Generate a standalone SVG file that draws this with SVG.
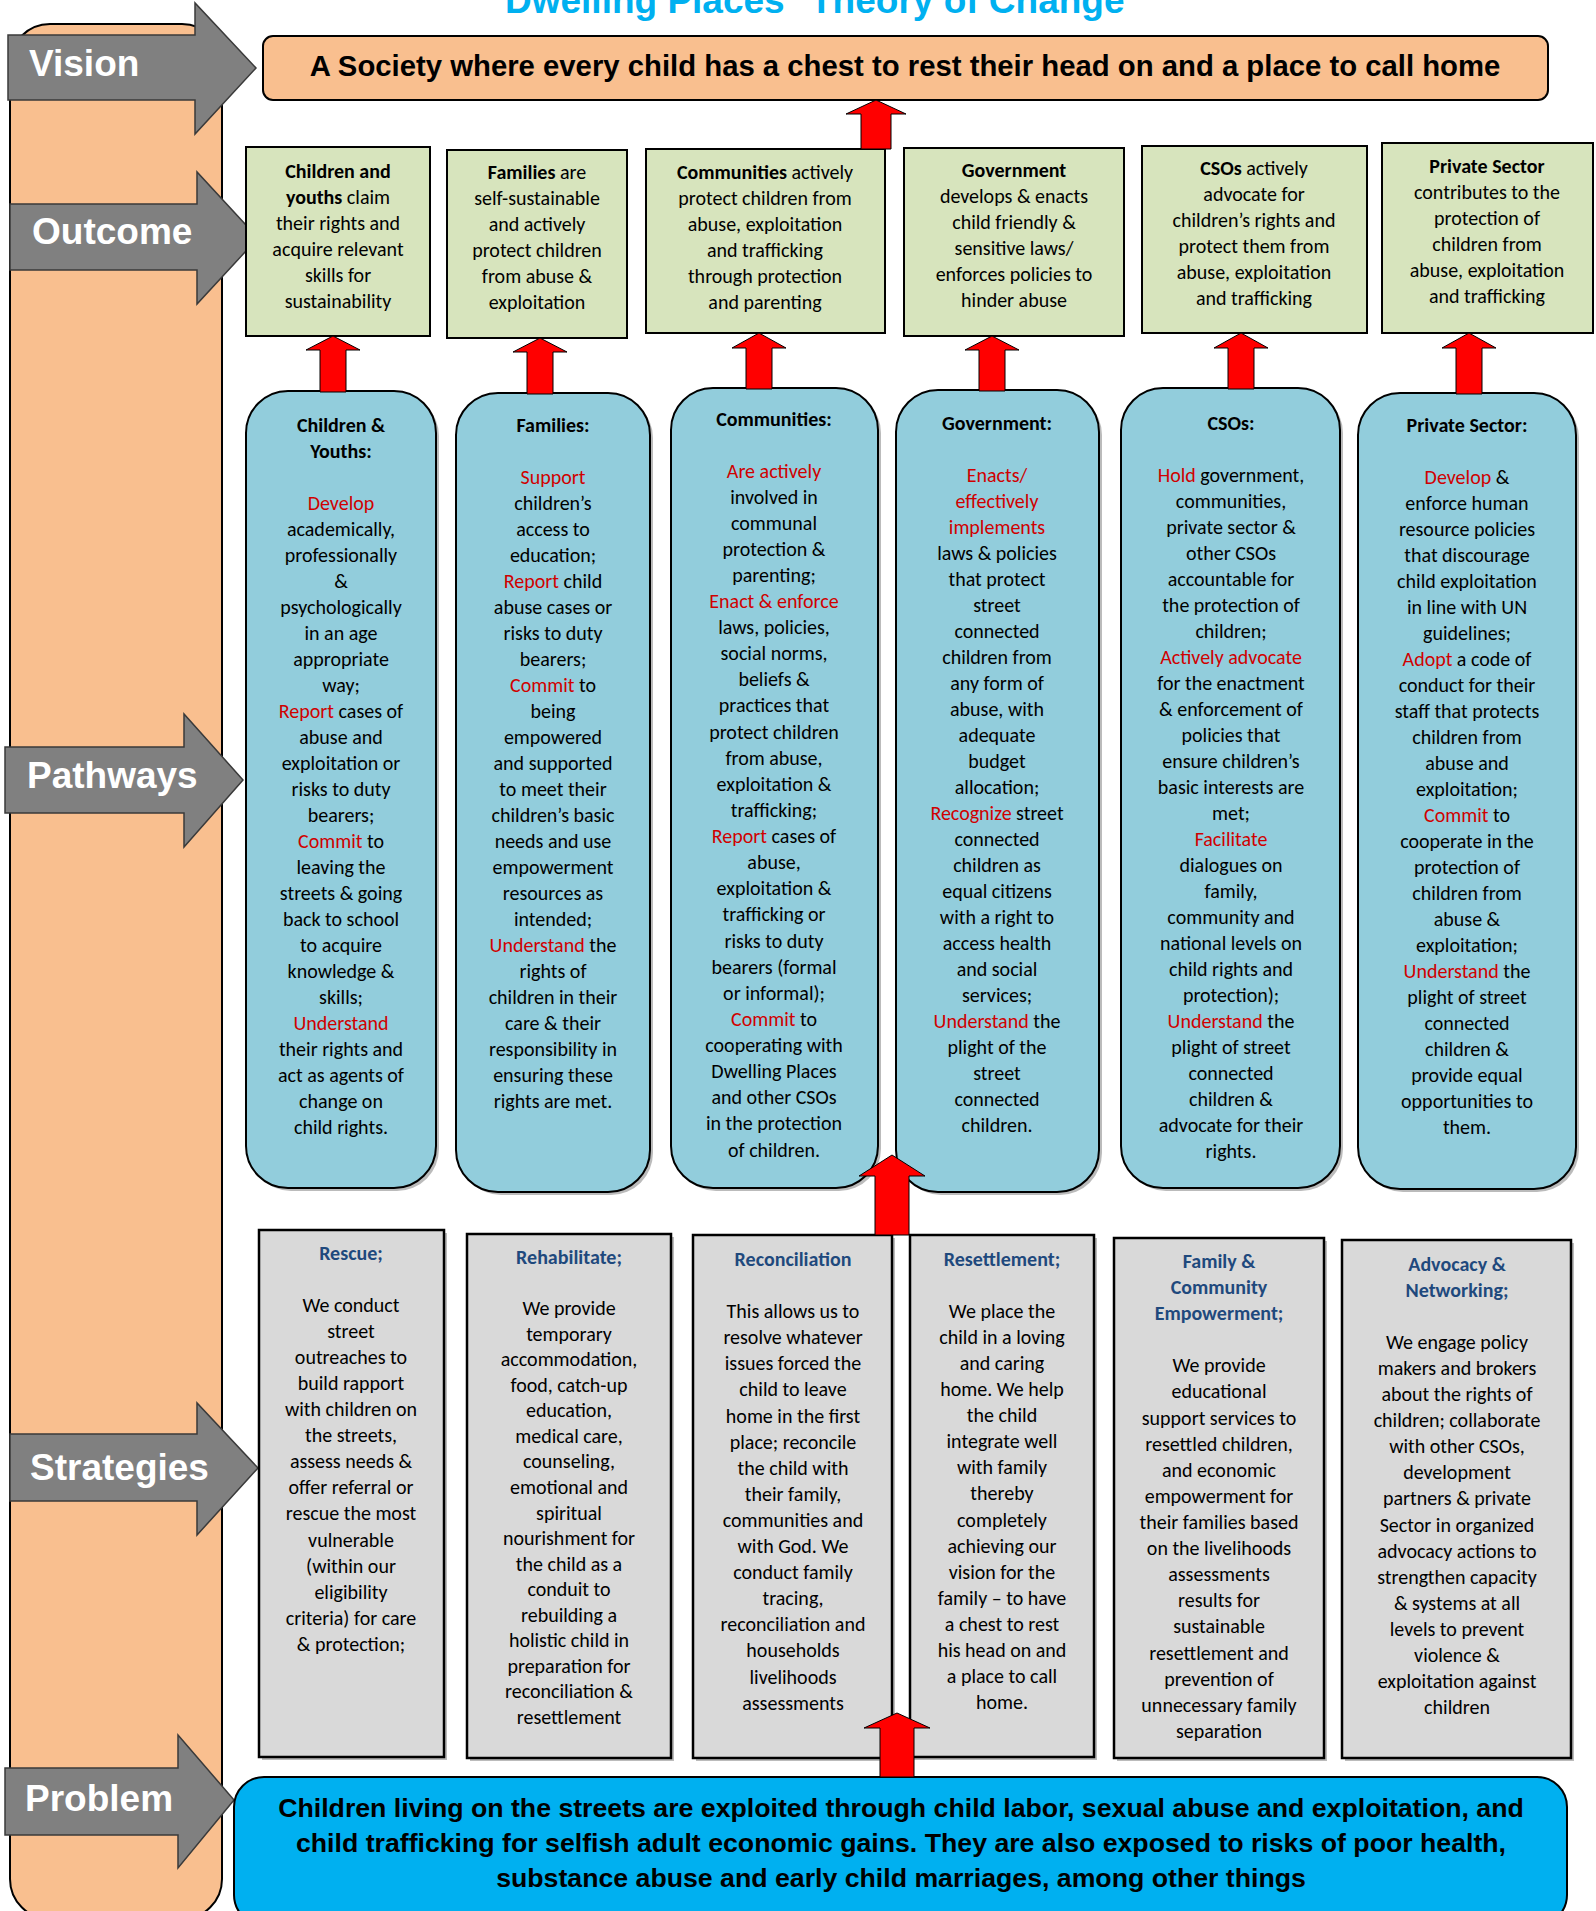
<svg xmlns="http://www.w3.org/2000/svg" width="1596" height="1911" viewBox="0 0 1596 1911">
<style>
.ar{font-family:"Liberation Sans",Arial,sans-serif;font-weight:bold}
.lab{font-family:"Liberation Sans",Arial,sans-serif;font-weight:bold;font-size:37px;fill:#fff}
.cal{font-family:Carlito,Lato,sans-serif;font-size:20px;fill:#000;text-anchor:middle}
.b{font-weight:bold}
.r{fill:#D00000}
.st{fill:#1F497D;font-weight:bold}
.garrow{fill:#808080;stroke:#3a3a3a;stroke-width:1.5}
.red{fill:#FF0000;stroke:#000;stroke-width:1}
.green{fill:#D7E4BD;stroke:#000;stroke-width:2}
.blue{fill:#92CDDC;stroke:#000;stroke-width:2}
.gray{fill:#D9D9D9;stroke:#000;stroke-width:2.5}
.sh{fill:#555;opacity:0.4}
</style>
<rect width="1596" height="1911" fill="#fff"/>
<g id="title">
<text class="ar" font-size="37" fill="#00B0F0" y="13"><tspan x="505">Dwelling Places</tspan><tspan x="810">Theory of Change</tspan></text>
</g>
<g id="left-bar">
<rect x="10" y="24" width="212" height="1895" rx="40" fill="#F9BF8F" stroke="#000" stroke-width="2"/>
</g>
<g id="label-vision">
<polygon class="garrow" points="8,35 195,35 195,3 256,68 195,134 195,100 8,100"/>
<text class="lab" x="29" y="76">Vision</text>
</g>
<g id="label-outcome">
<polygon class="garrow" points="10,204 197,204 197,172 258,238 197,304 197,270 10,270"/>
<text class="lab" x="32" y="244">Outcome</text>
</g>
<g id="label-pathways">
<polygon class="garrow" points="5,747 184,747 184,714 243,780 184,847 184,813 5,813"/>
<text class="lab" x="27" y="788">Pathways</text>
</g>
<g id="label-strategies">
<polygon class="garrow" points="10,1434 197,1434 197,1403 258,1468 197,1535 197,1501 10,1501"/>
<text class="lab" x="30" y="1480">Strategies</text>
</g>
<g id="label-problem">
<polygon class="garrow" points="5,1768 178,1768 178,1735 234,1800 178,1868 178,1835 5,1835"/>
<text class="lab" x="25" y="1811">Problem</text>
</g>
<g id="vision">
<rect x="263" y="36" width="1285" height="64" rx="10" fill="#F9BF8F" stroke="#000" stroke-width="2"/>
<text class="ar" font-size="29.3" x="905" y="76" text-anchor="middle">A Society where every child has a chest to rest their head on and a place to call home</text>
</g>
<g id="outcome-children">
<rect class="green" x="246" y="147" width="184" height="189"/>
<text class="cal"><tspan x="338" y="178" class="b">Children and</tspan><tspan x="338" y="204"><tspan class="b">youths</tspan> claim</tspan><tspan x="338" y="230">their rights and</tspan><tspan x="338" y="256">acquire relevant</tspan><tspan x="338" y="282">skills for</tspan><tspan x="338" y="308">sustainability</tspan></text>
</g>
<g id="outcome-families">
<rect class="green" x="447" y="150" width="180" height="188"/>
<text class="cal"><tspan x="537" y="179"><tspan class="b">Families</tspan> are</tspan><tspan x="537" y="205">self-sustainable</tspan><tspan x="537" y="231">and actively</tspan><tspan x="537" y="257">protect children</tspan><tspan x="537" y="283">from abuse &amp;</tspan><tspan x="537" y="309">exploitation</tspan></text>
</g>
<g id="outcome-communities">
<rect class="green" x="646" y="149" width="239" height="184"/>
<text class="cal"><tspan x="765" y="179"><tspan class="b">Communities</tspan> actively</tspan><tspan x="765" y="205">protect children from</tspan><tspan x="765" y="231">abuse, exploitation</tspan><tspan x="765" y="257">and trafficking</tspan><tspan x="765" y="283">through protection</tspan><tspan x="765" y="309">and parenting</tspan></text>
</g>
<g id="outcome-government">
<rect class="green" x="904" y="148" width="220" height="188"/>
<text class="cal"><tspan x="1014" y="177" class="b">Government</tspan><tspan x="1014" y="203">develops &amp; enacts</tspan><tspan x="1014" y="229">child friendly &amp;</tspan><tspan x="1014" y="255">sensitive laws/</tspan><tspan x="1014" y="281">enforces policies to</tspan><tspan x="1014" y="307">hinder abuse</tspan></text>
</g>
<g id="outcome-csos">
<rect class="green" x="1142" y="146" width="225" height="187"/>
<text class="cal"><tspan x="1254" y="175"><tspan class="b">CSOs</tspan> actively</tspan><tspan x="1254" y="201">advocate for</tspan><tspan x="1254" y="227">children’s rights and</tspan><tspan x="1254" y="253">protect them from</tspan><tspan x="1254" y="279">abuse, exploitation</tspan><tspan x="1254" y="305">and trafficking</tspan></text>
</g>
<g id="outcome-private">
<rect class="green" x="1382" y="143" width="211" height="190"/>
<text class="cal"><tspan x="1487" y="173" class="b">Private Sector</tspan><tspan x="1487" y="199">contributes to the</tspan><tspan x="1487" y="225">protection of</tspan><tspan x="1487" y="251">children from</tspan><tspan x="1487" y="277">abuse, exploitation</tspan><tspan x="1487" y="303">and trafficking</tspan></text>
</g>
<g id="pathway-children">
<rect class="sh" x="249" y="394" width="190" height="797" rx="42"/>
<rect class="blue" x="246" y="391" width="190" height="797" rx="42"/>
<text class="cal"><tspan x="341" y="432" class="b">Children &amp;</tspan><tspan x="341" y="458" class="b">Youths:</tspan><tspan x="341" y="510" class="r">Develop</tspan><tspan x="341" y="536">academically,</tspan><tspan x="341" y="562">professionally</tspan><tspan x="341" y="588">&amp;</tspan><tspan x="341" y="614">psychologically</tspan><tspan x="341" y="640">in an age</tspan><tspan x="341" y="666">appropriate</tspan><tspan x="341" y="692">way;</tspan><tspan x="341" y="718"><tspan class="r">Report</tspan> cases of</tspan><tspan x="341" y="744">abuse and</tspan><tspan x="341" y="770">exploitation or</tspan><tspan x="341" y="796">risks to duty</tspan><tspan x="341" y="822">bearers;</tspan><tspan x="341" y="848"><tspan class="r">Commit</tspan> to</tspan><tspan x="341" y="874">leaving the</tspan><tspan x="341" y="900">streets &amp; going</tspan><tspan x="341" y="926">back to school</tspan><tspan x="341" y="952">to acquire</tspan><tspan x="341" y="978">knowledge &amp;</tspan><tspan x="341" y="1004">skills;</tspan><tspan x="341" y="1030" class="r">Understand</tspan><tspan x="341" y="1056">their rights and</tspan><tspan x="341" y="1082">act as agents of</tspan><tspan x="341" y="1108">change on</tspan><tspan x="341" y="1134">child rights.</tspan></text>
</g>
<g id="pathway-families">
<rect class="sh" x="459" y="396" width="194" height="799" rx="42"/>
<rect class="blue" x="456" y="393" width="194" height="799" rx="42"/>
<text class="cal"><tspan x="553" y="432" class="b">Families:</tspan><tspan x="553" y="484" class="r">Support</tspan><tspan x="553" y="510">children’s</tspan><tspan x="553" y="536">access to</tspan><tspan x="553" y="562">education;</tspan><tspan x="553" y="588"><tspan class="r">Report</tspan> child</tspan><tspan x="553" y="614">abuse cases or</tspan><tspan x="553" y="640">risks to duty</tspan><tspan x="553" y="666">bearers;</tspan><tspan x="553" y="692"><tspan class="r">Commit</tspan> to</tspan><tspan x="553" y="718">being</tspan><tspan x="553" y="744">empowered</tspan><tspan x="553" y="770">and supported</tspan><tspan x="553" y="796">to meet their</tspan><tspan x="553" y="822">children’s basic</tspan><tspan x="553" y="848">needs and use</tspan><tspan x="553" y="874">empowerment</tspan><tspan x="553" y="900">resources as</tspan><tspan x="553" y="926">intended;</tspan><tspan x="553" y="952"><tspan class="r">Understand</tspan> the</tspan><tspan x="553" y="978">rights of</tspan><tspan x="553" y="1004">children in their</tspan><tspan x="553" y="1030">care &amp; their</tspan><tspan x="553" y="1056">responsibility in</tspan><tspan x="553" y="1082">ensuring these</tspan><tspan x="553" y="1108">rights are met.</tspan></text>
</g>
<g id="pathway-communities">
<rect class="sh" x="674" y="391" width="207" height="800" rx="42"/>
<rect class="blue" x="671" y="388" width="207" height="800" rx="42"/>
<text class="cal"><tspan x="774" y="426" class="b">Communities:</tspan><tspan x="774" y="478" class="r">Are actively</tspan><tspan x="774" y="504">involved in</tspan><tspan x="774" y="530">communal</tspan><tspan x="774" y="556">protection &amp;</tspan><tspan x="774" y="582">parenting;</tspan><tspan x="774" y="608" class="r">Enact &amp; enforce</tspan><tspan x="774" y="634">laws, policies,</tspan><tspan x="774" y="660">social norms,</tspan><tspan x="774" y="686">beliefs &amp;</tspan><tspan x="774" y="712">practices that</tspan><tspan x="774" y="739">protect children</tspan><tspan x="774" y="765">from abuse,</tspan><tspan x="774" y="791">exploitation &amp;</tspan><tspan x="774" y="817">trafficking;</tspan><tspan x="774" y="843"><tspan class="r">Report</tspan> cases of</tspan><tspan x="774" y="869">abuse,</tspan><tspan x="774" y="895">exploitation &amp;</tspan><tspan x="774" y="921">trafficking or</tspan><tspan x="774" y="948">risks to duty</tspan><tspan x="774" y="974">bearers (formal</tspan><tspan x="774" y="1000">or informal);</tspan><tspan x="774" y="1026"><tspan class="r">Commit</tspan> to</tspan><tspan x="774" y="1052">cooperating with</tspan><tspan x="774" y="1078">Dwelling Places</tspan><tspan x="774" y="1104">and other CSOs</tspan><tspan x="774" y="1130">in the protection</tspan><tspan x="774" y="1157">of children.</tspan></text>
</g>
<g id="pathway-government">
<rect class="sh" x="899" y="393" width="203" height="802" rx="42"/>
<rect class="blue" x="896" y="390" width="203" height="802" rx="42"/>
<text class="cal"><tspan x="997" y="430" class="b">Government:</tspan><tspan x="997" y="482" class="r">Enacts/</tspan><tspan x="997" y="508" class="r">effectively</tspan><tspan x="997" y="534" class="r">implements</tspan><tspan x="997" y="560">laws &amp; policies</tspan><tspan x="997" y="586">that protect</tspan><tspan x="997" y="612">street</tspan><tspan x="997" y="638">connected</tspan><tspan x="997" y="664">children from</tspan><tspan x="997" y="690">any form of</tspan><tspan x="997" y="716">abuse, with</tspan><tspan x="997" y="742">adequate</tspan><tspan x="997" y="768">budget</tspan><tspan x="997" y="794">allocation;</tspan><tspan x="997" y="820"><tspan class="r">Recognize</tspan> street</tspan><tspan x="997" y="846">connected</tspan><tspan x="997" y="872">children as</tspan><tspan x="997" y="898">equal citizens</tspan><tspan x="997" y="924">with a right to</tspan><tspan x="997" y="950">access health</tspan><tspan x="997" y="976">and social</tspan><tspan x="997" y="1002">services;</tspan><tspan x="997" y="1028"><tspan class="r">Understand</tspan> the</tspan><tspan x="997" y="1054">plight of the</tspan><tspan x="997" y="1080">street</tspan><tspan x="997" y="1106">connected</tspan><tspan x="997" y="1132">children.</tspan></text>
</g>
<g id="pathway-csos">
<rect class="sh" x="1124" y="391" width="219" height="800" rx="42"/>
<rect class="blue" x="1121" y="388" width="219" height="800" rx="42"/>
<text class="cal"><tspan x="1231" y="430" class="b">CSOs:</tspan><tspan x="1231" y="482"><tspan class="r">Hold</tspan> government,</tspan><tspan x="1231" y="508">communities,</tspan><tspan x="1231" y="534">private sector &amp;</tspan><tspan x="1231" y="560">other CSOs</tspan><tspan x="1231" y="586">accountable for</tspan><tspan x="1231" y="612">the protection of</tspan><tspan x="1231" y="638">children;</tspan><tspan x="1231" y="664" class="r">Actively advocate</tspan><tspan x="1231" y="690">for the enactment</tspan><tspan x="1231" y="716">&amp; enforcement of</tspan><tspan x="1231" y="742">policies that</tspan><tspan x="1231" y="768">ensure children’s</tspan><tspan x="1231" y="794">basic interests are</tspan><tspan x="1231" y="820">met;</tspan><tspan x="1231" y="846" class="r">Facilitate</tspan><tspan x="1231" y="872">dialogues on</tspan><tspan x="1231" y="898">family,</tspan><tspan x="1231" y="924">community and</tspan><tspan x="1231" y="950">national levels on</tspan><tspan x="1231" y="976">child rights and</tspan><tspan x="1231" y="1002">protection);</tspan><tspan x="1231" y="1028"><tspan class="r">Understand</tspan> the</tspan><tspan x="1231" y="1054">plight of street</tspan><tspan x="1231" y="1080">connected</tspan><tspan x="1231" y="1106">children &amp;</tspan><tspan x="1231" y="1132">advocate for their</tspan><tspan x="1231" y="1158">rights.</tspan></text>
</g>
<g id="pathway-private">
<rect class="sh" x="1361" y="396" width="218" height="796" rx="42"/>
<rect class="blue" x="1358" y="393" width="218" height="796" rx="42"/>
<text class="cal"><tspan x="1467" y="432" class="b">Private Sector:</tspan><tspan x="1467" y="484"><tspan class="r">Develop</tspan> &amp;</tspan><tspan x="1467" y="510">enforce human</tspan><tspan x="1467" y="536">resource policies</tspan><tspan x="1467" y="562">that discourage</tspan><tspan x="1467" y="588">child exploitation</tspan><tspan x="1467" y="614">in line with UN</tspan><tspan x="1467" y="640">guidelines;</tspan><tspan x="1467" y="666"><tspan class="r">Adopt</tspan> a code of</tspan><tspan x="1467" y="692">conduct for their</tspan><tspan x="1467" y="718">staff that protects</tspan><tspan x="1467" y="744">children from</tspan><tspan x="1467" y="770">abuse and</tspan><tspan x="1467" y="796">exploitation;</tspan><tspan x="1467" y="822"><tspan class="r">Commit</tspan> to</tspan><tspan x="1467" y="848">cooperate in the</tspan><tspan x="1467" y="874">protection of</tspan><tspan x="1467" y="900">children from</tspan><tspan x="1467" y="926">abuse &amp;</tspan><tspan x="1467" y="952">exploitation;</tspan><tspan x="1467" y="978"><tspan class="r">Understand</tspan> the</tspan><tspan x="1467" y="1004">plight of street</tspan><tspan x="1467" y="1030">connected</tspan><tspan x="1467" y="1056">children &amp;</tspan><tspan x="1467" y="1082">provide equal</tspan><tspan x="1467" y="1108">opportunities to</tspan><tspan x="1467" y="1134">them.</tspan></text>
</g>
<g id="strategy-rescue">
<rect class="sh" x="262" y="1233" width="185" height="527"/>
<rect class="gray" x="259" y="1230" width="185" height="527"/>
<text class="cal"><tspan x="351" y="1260" class="st">Rescue;</tspan><tspan x="351" y="1312">We conduct</tspan><tspan x="351" y="1338">street</tspan><tspan x="351" y="1364">outreaches to</tspan><tspan x="351" y="1390">build rapport</tspan><tspan x="351" y="1416">with children on</tspan><tspan x="351" y="1442">the streets,</tspan><tspan x="351" y="1468">assess needs &amp;</tspan><tspan x="351" y="1494">offer referral or</tspan><tspan x="351" y="1520">rescue the most</tspan><tspan x="351" y="1547">vulnerable</tspan><tspan x="351" y="1573">(within our</tspan><tspan x="351" y="1599">eligibility</tspan><tspan x="351" y="1625">criteria) for care</tspan><tspan x="351" y="1651">&amp; protection;</tspan></text>
</g>
<g id="strategy-rehabilitate">
<rect class="sh" x="470" y="1237" width="204" height="524"/>
<rect class="gray" x="467" y="1234" width="204" height="524"/>
<text class="cal"><tspan x="569" y="1264" class="st">Rehabilitate;</tspan><tspan x="569" y="1315">We provide</tspan><tspan x="569" y="1341">temporary</tspan><tspan x="569" y="1366">accommodation,</tspan><tspan x="569" y="1392">food, catch-up</tspan><tspan x="569" y="1417">education,</tspan><tspan x="569" y="1443">medical care,</tspan><tspan x="569" y="1468">counseling,</tspan><tspan x="569" y="1494">emotional and</tspan><tspan x="569" y="1520">spiritual</tspan><tspan x="569" y="1545">nourishment for</tspan><tspan x="569" y="1571">the child as a</tspan><tspan x="569" y="1596">conduit to</tspan><tspan x="569" y="1622">rebuilding a</tspan><tspan x="569" y="1647">holistic child in</tspan><tspan x="569" y="1673">preparation for</tspan><tspan x="569" y="1698">reconciliation &amp;</tspan><tspan x="569" y="1724">resettlement</tspan></text>
</g>
<g id="strategy-reconciliation">
<rect class="sh" x="696" y="1238" width="199" height="523"/>
<rect class="gray" x="693" y="1235" width="199" height="523"/>
<text class="cal"><tspan x="793" y="1266" class="st">Reconciliation</tspan><tspan x="793" y="1318">This allows us to</tspan><tspan x="793" y="1344">resolve whatever</tspan><tspan x="793" y="1370">issues forced the</tspan><tspan x="793" y="1396">child to leave</tspan><tspan x="793" y="1423">home in the first</tspan><tspan x="793" y="1449">place; reconcile</tspan><tspan x="793" y="1475">the child with</tspan><tspan x="793" y="1501">their family,</tspan><tspan x="793" y="1527">communities and</tspan><tspan x="793" y="1553">with God. We</tspan><tspan x="793" y="1579">conduct family</tspan><tspan x="793" y="1605">tracing,</tspan><tspan x="793" y="1631">reconciliation and</tspan><tspan x="793" y="1657">households</tspan><tspan x="793" y="1684">livelihoods</tspan><tspan x="793" y="1710">assessments</tspan></text>
</g>
<g id="strategy-resettlement">
<rect class="sh" x="913" y="1238" width="184" height="522"/>
<rect class="gray" x="910" y="1235" width="184" height="522"/>
<text class="cal"><tspan x="1002" y="1266" class="st">Resettlement;</tspan><tspan x="1002" y="1318">We place the</tspan><tspan x="1002" y="1344">child in a loving</tspan><tspan x="1002" y="1370">and caring</tspan><tspan x="1002" y="1396">home. We help</tspan><tspan x="1002" y="1422">the child</tspan><tspan x="1002" y="1448">integrate well</tspan><tspan x="1002" y="1474">with family</tspan><tspan x="1002" y="1500">thereby</tspan><tspan x="1002" y="1527">completely</tspan><tspan x="1002" y="1553">achieving our</tspan><tspan x="1002" y="1579">vision for the</tspan><tspan x="1002" y="1605">family – to have</tspan><tspan x="1002" y="1631">a chest to rest</tspan><tspan x="1002" y="1657">his head on and</tspan><tspan x="1002" y="1683">a place to call</tspan><tspan x="1002" y="1709">home.</tspan></text>
</g>
<g id="strategy-empowerment">
<rect class="sh" x="1117" y="1241" width="210" height="520"/>
<rect class="gray" x="1114" y="1238" width="210" height="520"/>
<text class="cal"><tspan x="1219" y="1268" class="st">Family &amp;</tspan><tspan x="1219" y="1294" class="st">Community</tspan><tspan x="1219" y="1320" class="st">Empowerment;</tspan><tspan x="1219" y="1372">We provide</tspan><tspan x="1219" y="1398">educational</tspan><tspan x="1219" y="1425">support services to</tspan><tspan x="1219" y="1451">resettled children,</tspan><tspan x="1219" y="1477">and economic</tspan><tspan x="1219" y="1503">empowerment for</tspan><tspan x="1219" y="1529">their families based</tspan><tspan x="1219" y="1555">on the livelihoods</tspan><tspan x="1219" y="1581">assessments</tspan><tspan x="1219" y="1607">results for</tspan><tspan x="1219" y="1633">sustainable</tspan><tspan x="1219" y="1660">resettlement and</tspan><tspan x="1219" y="1686">prevention of</tspan><tspan x="1219" y="1712">unnecessary family</tspan><tspan x="1219" y="1738">separation</tspan></text>
</g>
<g id="strategy-advocacy">
<rect class="sh" x="1345" y="1243" width="229" height="518"/>
<rect class="gray" x="1342" y="1240" width="229" height="518"/>
<text class="cal"><tspan x="1457" y="1271" class="st">Advocacy &amp;</tspan><tspan x="1457" y="1297" class="st">Networking;</tspan><tspan x="1457" y="1349">We engage policy</tspan><tspan x="1457" y="1375">makers and brokers</tspan><tspan x="1457" y="1401">about the rights of</tspan><tspan x="1457" y="1427">children; collaborate</tspan><tspan x="1457" y="1453">with other CSOs,</tspan><tspan x="1457" y="1479">development</tspan><tspan x="1457" y="1505">partners &amp; private</tspan><tspan x="1457" y="1532">Sector in organized</tspan><tspan x="1457" y="1558">advocacy actions to</tspan><tspan x="1457" y="1584">strengthen capacity</tspan><tspan x="1457" y="1610">&amp; systems at all</tspan><tspan x="1457" y="1636">levels to prevent</tspan><tspan x="1457" y="1662">violence &amp;</tspan><tspan x="1457" y="1688">exploitation against</tspan><tspan x="1457" y="1714">children</tspan></text>
</g>
<g id="problem">
<rect x="234" y="1777" width="1333" height="148" rx="30" fill="#00B0F0" stroke="#000" stroke-width="2"/>
<text class="ar" font-size="26.7" text-anchor="middle"><tspan x="901" y="1817">Children living on the streets are exploited through child labor, sexual abuse and exploitation, and</tspan><tspan x="901" y="1852">child trafficking for selfish adult economic gains. They are also exposed to risks of poor health,</tspan><tspan x="901" y="1887">substance abuse and early child marriages, among other things</tspan></text>
</g>
<g id="connectors">
<polygon class="red" points="876,100 906,114 891,114 891,149 861,149 861,114 846,114"/>
<polygon class="red" points="333,336 360,350 346,350 346,392 320,392 320,350 306,350"/>
<polygon class="red" points="540,338 567,352 553,352 553,394 527,394 527,352 513,352"/>
<polygon class="red" points="759,333 786,348 772,348 772,389 746,389 746,348 732,348"/>
<polygon class="red" points="992,336 1019,350 1005,350 1005,391 979,391 979,350 965,350"/>
<polygon class="red" points="1241,333 1268,348 1254,348 1254,389 1228,389 1228,348 1214,348"/>
<polygon class="red" points="1469,333 1496,348 1482,348 1482,394 1456,394 1456,348 1442,348"/>
<polygon class="red" points="892,1155 925,1176 909,1176 909,1235 875,1235 875,1176 859,1176"/>
<polygon class="red" points="897,1713 930,1728 914,1728 914,1777 880,1777 880,1728 864,1728"/>
</g>
</svg>
